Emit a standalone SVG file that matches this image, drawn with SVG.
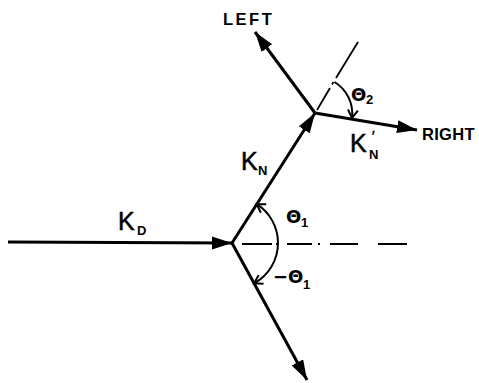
<svg xmlns="http://www.w3.org/2000/svg" width="479" height="383" viewBox="0 0 479 383">
<style>
.vec{stroke:#000;stroke-width:3;fill:none;stroke-linecap:butt}
.axis{stroke:#000;stroke-width:1.8;fill:none}
.arc{stroke:#000;stroke-width:2;fill:none}
.k{font-family:"Liberation Sans",Arial,sans-serif;font-size:25px;fill:#000;stroke:#000;stroke-width:0.5}
.sub{font-family:"Liberation Sans",Arial,sans-serif;font-weight:bold;font-size:13px;fill:#000;stroke:none}
.th{font-family:"DejaVu Sans",sans-serif;font-weight:bold;font-size:18px;fill:#000}
.lbl{font-family:"Liberation Sans",Arial,sans-serif;font-weight:bold;font-size:16.5px;fill:#000}
</style>
<defs>
<marker id="ah" markerUnits="userSpaceOnUse" markerWidth="22" markerHeight="14" refX="20" refY="6.5" orient="auto">
<path d="M0,0 L20,6.5 L0,13 z" fill="#000"/>
</marker>
<marker id="oa" markerUnits="userSpaceOnUse" markerWidth="14" markerHeight="14" refX="9" refY="6" orient="auto-start-reverse">
<path d="M1,1 L9,6 L1,11" fill="none" stroke="#000" stroke-width="2"/>
</marker>
</defs>
<g id="connectors">
<line class="vec" x1="8" y1="242" x2="232" y2="243" marker-end="url(#ah)"/>
<line class="vec" x1="232" y1="243" x2="315" y2="113" marker-end="url(#ah)"/>
<line class="vec" x1="315" y1="113" x2="255" y2="32" marker-end="url(#ah)"/>
<line class="vec" x1="315" y1="113" x2="417" y2="130" marker-end="url(#ah)"/>
<line class="vec" x1="232" y1="243" x2="307" y2="380" marker-end="url(#ah)"/>
<path class="axis" d="M242,244 H272 M276,244 H278 M287,244 H312 M318,244 H320 M330,244 H358 M378,244 H407"/>
<path class="axis" d="M317,110 L330,88 M332,84.5 L333.5,82 M336,78 L358,42"/>
<path class="arc" d="M256.8,204.2 A46,46 0 0 1 278,243 A46,46 0 0 1 254.1,283.3" marker-start="url(#oa)" marker-end="url(#oa)"/>
<path class="arc" d="M334.5,82 A37,37 0 0 1 352,118" marker-end="url(#oa)"/>
</g>
<g id="label-left"><text class="lbl" x="223" y="25" letter-spacing="2.5">LEFT</text></g>
<g id="label-right"><text class="lbl" x="422" y="140" font-size="17" letter-spacing="0.3">RIGHT</text></g>
<g id="label-kd"><text class="k" x="118" y="230">K<tspan class="sub" x="137" y="235" font-size="14">D</tspan></text></g>
<g id="label-kn"><text class="k" x="241" y="170">K<tspan class="sub" x="258" y="175">N</tspan></text></g>
<g id="label-knp"><text class="k" x="350" y="152">K<tspan x="372" y="141" font-size="14">′</tspan><tspan class="sub" x="369" y="159" font-size="12">N</tspan></text></g>
<g id="label-th1"><text class="th" x="286" y="223">Θ<tspan class="sub" x="301" y="227" font-size="12">1</tspan></text></g>
<g id="label-mth1"><text class="th" x="273" y="283">−Θ<tspan class="sub" x="303" y="289" font-size="12">1</tspan></text></g>
<g id="label-th2"><text class="th" x="351" y="101">Θ<tspan class="sub" x="366" y="104" font-size="12">2</tspan></text></g>
</svg>
